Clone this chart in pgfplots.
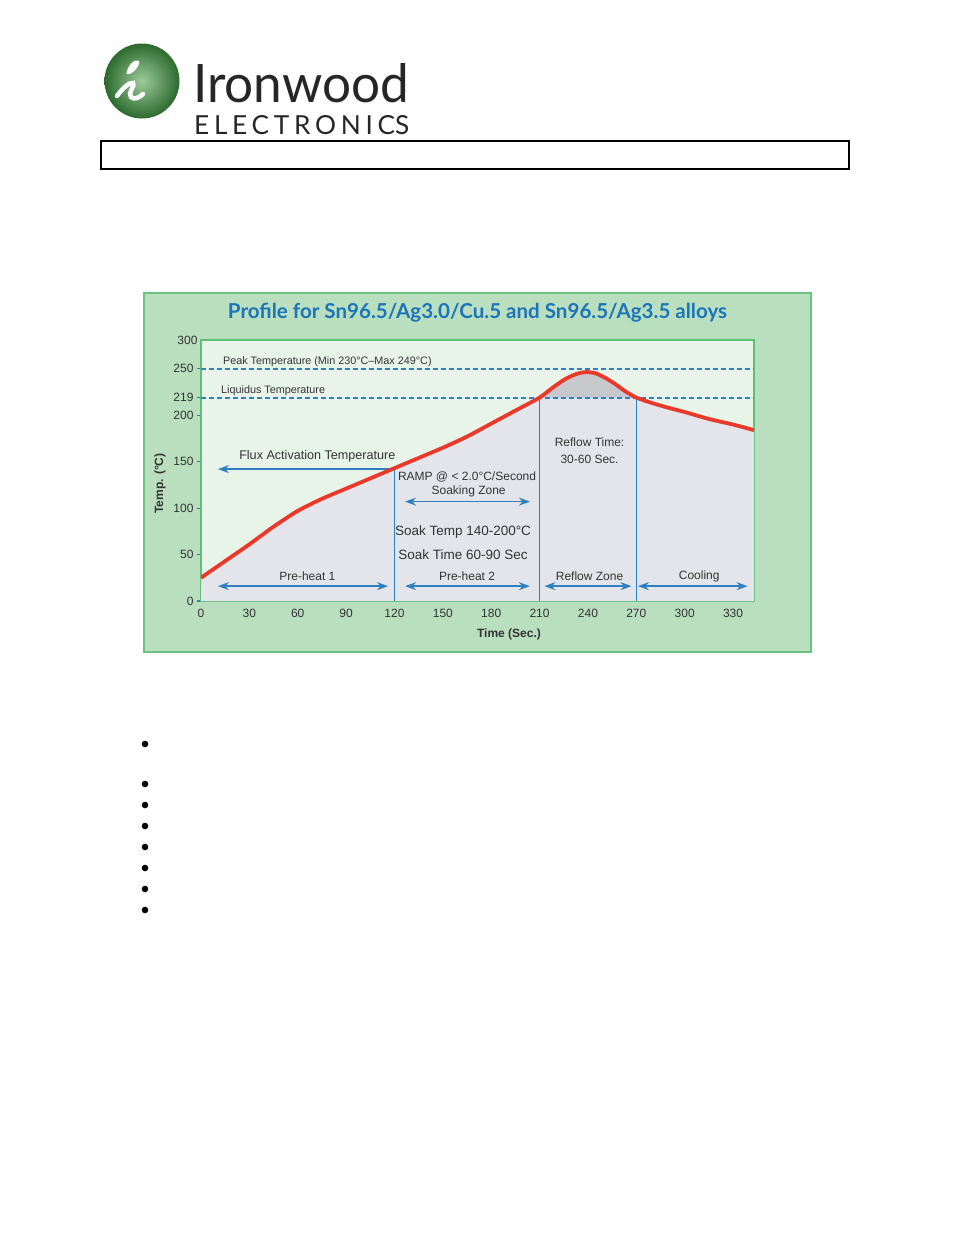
\documentclass[border=0pt]{standalone}
\usepackage{fontspec}
\setmainfont{Liberation Sans}
\newfontfamily\logofont{Lato}
\usepackage{graphicx}
\usepackage{pgfplots}
\usepackage{pgfplotstable}
\pgfplotsset{compat=1.18}
\usetikzlibrary{arrows.meta}

\definecolor{boxgreen}{HTML}{B9DFBF}
\definecolor{boxedge}{HTML}{6CC27F}
\definecolor{plotbg}{HTML}{E7F4E7}
\definecolor{undergray}{HTML}{E4E5EA}
\definecolor{peakgray}{HTML}{C8C9CD}
\definecolor{curvered}{HTML}{E8392B}
\definecolor{annblue}{HTML}{2F80C2}
\definecolor{titleblue}{HTML}{1C74BA}
\definecolor{axgreen}{HTML}{5DBF78}
\definecolor{txt}{HTML}{333333}
\definecolor{logodark}{HTML}{2C6A2E}
\definecolor{logolight}{HTML}{9CCB99}

\newcommand\fs[1]{\fontsize{#1}{#1}\selectfont}

% reflow profile, time (s) vs temperature (C)
\pgfplotstableread{
t    T
0    25
15   43
30   61
45   80
60   97
75   110
90   121
105  132
120  143
135  154
150  165
165  177
180  191
195  205
210  219
218  229.5
226  239
233  244.5
239  246.5
245  245
251  240
257  233.5
263  226
270  219
280  213
290  208
301  203
315  196
330  190
343  184
}\profile

\pgfplotstableread{
t    T
210  219
218  229.5
226  239
233  244.5
239  246.5
245  245
251  240
257  233.5
263  226
270  219
}\peak

\tikzset{
  ann/.style={draw=annblue, line width=1.5pt},
  tip/.tip={Stealth[length=11pt,width=8pt]},
  arr/.style={ann, tip-tip},
}

\begin{document}
\begin{tikzpicture}
\begin{scope}[x=1pt,y=-1pt]
  \fill[white] (0,0) rectangle (954,1235);
  % logo
  \shade[inner color=logolight, outer color=logodark] (142,81) circle (37.5pt);
  \fill[white] (126.5,74) .. controls (127,66) and (134,59) .. (138.5,60.5)
     .. controls (141,62) and (138,68) .. (133,72) .. controls (130,74) and (128,75) .. (126.5,74) -- cycle;
  \draw[white, line width=4.5pt, line cap=round]
     (117,96) .. controls (122,89) and (129,82) .. (133,83)
     .. controls (136,85) and (127,93) .. (131,97)
     .. controls (134,100) and (139,98) .. (143,94);
  \node[anchor=south west, inner sep=0, text=black!85] at (193,103.5)
     {\resizebox{216pt}{39pt}{\logofont Ironwood}};
  \node[anchor=south west, inner sep=0, text=black!85] at (194,135)
     {\resizebox{215pt}{19pt}{\logofont\addfontfeatures{LetterSpace=18}ELECTRONIC\addfontfeatures{LetterSpace=0}S}};
  \draw[line width=1.5pt] (101,141) rectangle (849,169);
  % chart frame
  \draw[fill=boxgreen, draw=boxedge, line width=1.5pt] (144,293) rectangle (811,652);
  \node[text=titleblue] at (477.5,313)
     {\resizebox{499pt}{!}{\logofont\bfseries Profile for Sn96.5/Ag3.0/Cu.5 and Sn96.5/Ag3.5 alloys}};
  % bullets
  \foreach \yy in {744,784,805,826,847,868,889,910}
    \fill (145,\yy) circle (3.3pt);
\end{scope}

\begin{axis}[
  at={(201pt,-601pt)}, anchor=south west,
  width=553pt, height=261pt, scale only axis,
  xmin=0, xmax=343, ymin=0, ymax=281,
  axis background/.style={fill=plotbg},
  axis line style={draw=axgreen, line width=2pt},
  xtick={0,30,...,330}, ytick={0,50,100,150,200,219,250},
  extra y ticks={281}, extra y tick labels={300},
  extra y tick style={major tick length=0pt},
  xtick align=inside, ytick align=outside,
  xtick pos=bottom, ytick pos=left,
  major tick length=4pt,
  tick style={draw=annblue, line width=1.2pt},
  /pgf/number format/assume math mode=true,
  tick label style={font=\fs{12}, text=txt},
  xticklabel style={yshift=-5pt},
  xlabel={Time (Sec.)}, ylabel={Temp. (°C)},
  label style={font=\fs{12}\bfseries, text=txt},
  xlabel style={at={(axis description cs:0.557,-0.126)}, anchor=center},
  ylabel style={at={(axis description cs:-0.074,0.45)}, anchor=center},
]
  \addplot[fill=undergray, draw=none, smooth, tension=0.45] table[x=t,y=T] {\profile} \closedcycle;
  \addplot[fill=peakgray, draw=none, smooth, tension=0.45] table[x=t,y=T] {\peak} -- cycle;

  \addplot[ann, line width=2pt, dash pattern=on 5pt off 3pt] coordinates {(0,250) (343,250)};
  \addplot[ann, line width=2pt, dash pattern=on 5pt off 3pt] coordinates {(0,218.6) (343,218.6)};

  \addplot[ann] coordinates {(120,0) (120,143)};
  \addplot[ann] coordinates {(210,0) (210,219)};
  \addplot[ann] coordinates {(270,0) (270,219)};

  \addplot[ann, -tip] coordinates {(120,142) (10.5,142)};
  \addplot[arr] coordinates {(126.6,107) (204,107)};
  \addplot[arr] coordinates {(10.5,16) (116,16)};
  \addplot[arr] coordinates {(126.6,16) (204,16)};
  \addplot[arr] coordinates {(213,16) (267,16)};
  \addplot[arr] coordinates {(271,16) (339,16)};

  \addplot[curvered, line width=3.8pt, smooth, tension=0.45] table[x=t,y=T] {\profile};

  \node[font=\fs{10.8}, text=txt, anchor=west, inner sep=0] at (axis cs:13.6,257.5) {Peak Temperature (Min 230°C–Max 249°C)};
  \node[font=\fs{10.8}, text=txt, anchor=west, inner sep=0] at (axis cs:12.4,226) {Liquidus Temperature};
  \node[font=\fs{12.6}, text=txt, anchor=west, inner sep=0] at (axis cs:23.6,156) {Flux Activation Temperature};
  \node[font=\fs{12}, text=txt] at (axis cs:165,133.6) {RAMP @ < 2.0°C/Second};
  \node[font=\fs{12}, text=txt] at (axis cs:166,117.5) {Soaking Zone};
  \node[font=\fs{13.5}, text=txt] at (axis cs:162.5,74) {Soak Temp 140-200°C};
  \node[font=\fs{13.5}, text=txt] at (axis cs:162.5,49.6) {Soak Time 60-90 Sec};
  \node[font=\fs{12}, text=txt] at (axis cs:241,171) {Reflow Time:};
  \node[font=\fs{12}, text=txt] at (axis cs:241,152) {30-60 Sec.};
  \node[font=\fs{12}, text=txt] at (axis cs:66,27) {Pre-heat 1};
  \node[font=\fs{12}, text=txt] at (axis cs:165,27) {Pre-heat 2};
  \node[font=\fs{12}, text=txt] at (axis cs:241,27) {Reflow Zone};
  \node[font=\fs{12}, text=txt] at (axis cs:309,27) {Cooling};
\end{axis}
\end{tikzpicture}
\end{document}
